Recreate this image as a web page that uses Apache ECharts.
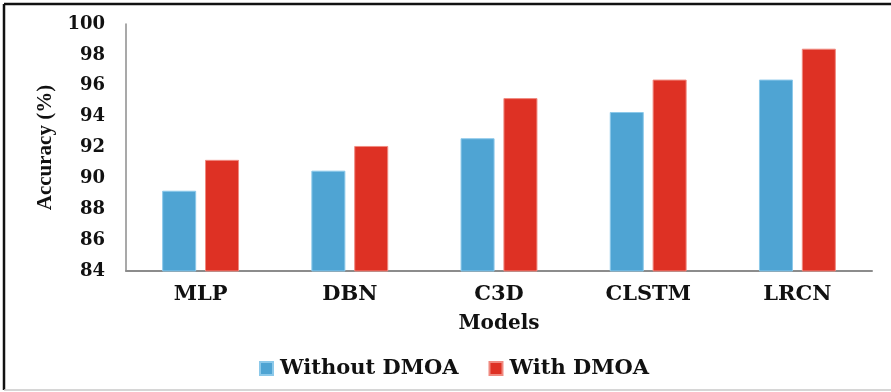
<!DOCTYPE html>
<html>
<head>
<meta charset="utf-8">
<script src="https://cdn.jsdelivr.net/npm/echarts@6/dist/echarts.min.js"></script>
<style>
html,body{margin:0;padding:0;background:#fff;}
#c{width:891px;height:392px;}
</style>
</head>
<body>
<div id="c"></div>
<script>
const categories = ['MLP', 'DBN', 'C3D', 'CLSTM', 'LRCN'];
const withoutDMOA = [89.2, 90.5, 92.6, 94.3, 96.4];
const withDMOA = [91.2, 92.1, 95.2, 96.4, 98.4];
const seriesNames = ['Without DMOA', 'With DMOA'];

const serif = '"DejaVu Serif", "Liberation Serif", serif';
const chart = echarts.init(document.getElementById('c'));
chart.setOption({
  animation: false,
  backgroundColor: '#fff',
  grid: { left: 126, right: 19, top: 24, bottom: 121 },
  legend: {
    bottom: 8,
    left: 254,
    itemWidth: 13,
    itemHeight: 13,
    itemGap: 30,
    icon: 'rect',
    textStyle: { fontFamily: serif, fontWeight: 'bold', fontSize: 21, color: '#111', padding: [0, 0, 0, 2] },
    data: seriesNames
  },
  xAxis: {
    type: 'category',
    data: categories,
    name: 'Models',
    nameLocation: 'middle',
    nameGap: 43,
    nameTextStyle: { fontFamily: serif, fontWeight: 'bold', fontSize: 20, color: '#111' },
    axisLine: { lineStyle: { color: '#8c8c8c', width: 2 } },
    axisTick: { show: false },
    axisLabel: { fontFamily: serif, fontWeight: 'bold', fontSize: 21, color: '#111', margin: 13 }
  },
  yAxis: {
    type: 'value',
    min: 84,
    max: 100,
    interval: 2,
    name: 'Accuracy (%)',
    nameLocation: 'middle',
    nameGap: 70,
    nameTextStyle: { fontFamily: '"Liberation Serif", serif', fontWeight: 'bold', fontSize: 21, color: '#111' },
    axisLine: { show: true, lineStyle: { color: '#8c8c8c', width: 1.5 } },
    axisTick: { show: false },
    splitLine: { show: false },
    axisLabel: { fontFamily: serif, fontWeight: 'bold', fontSize: 18, color: '#111', margin: 21 }
  },
  series: [
    {
      name: seriesNames[0],
      type: 'bar',
      data: withoutDMOA,
      barWidth: '22.8%',
      barGap: '26%',
      itemStyle: { color: '#4FA4D3', borderColor: '#8cc9ea', borderWidth: 1 }
    },
    {
      name: seriesNames[1],
      type: 'bar',
      data: withDMOA,
      barWidth: '22.8%',
      itemStyle: { color: '#DE3124', borderColor: '#f08a80', borderWidth: 1 }
    }
  ],
  graphic: [
    { type: 'line', shape: { x1: 4, y1: 4, x2: 891, y2: 4 }, style: { stroke: '#111', lineWidth: 2.5 } },
    { type: 'line', shape: { x1: 4, y1: 4, x2: 4, y2: 390 }, style: { stroke: '#111', lineWidth: 2.5 } },
    { type: 'line', shape: { x1: 4, y1: 390, x2: 891, y2: 390 }, style: { stroke: '#c8c8c8', lineWidth: 1.5 } }
  ]
});
</script>
</body>
</html>
